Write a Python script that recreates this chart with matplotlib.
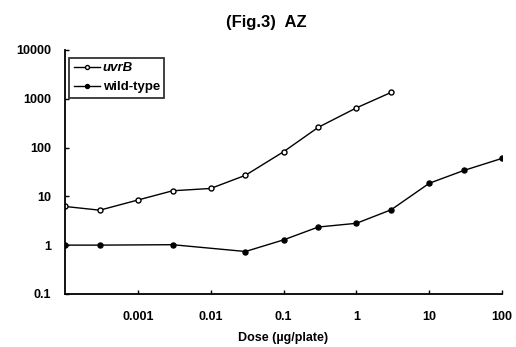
import numpy as np
import matplotlib
matplotlib.use("Agg")
import matplotlib.pyplot as plt

plt.rcParams['font.family'] = ['Liberation Sans', 'DejaVu Sans']
plt.rcParams['font.weight'] = 'bold'

# Dose (ug/plate)
dose_uvrb = [1e-4, 3e-4, 1e-3, 3e-3, 1e-2, 3e-2, 0.1, 0.3, 1, 3]
uvrb = [6.2, 5.2, 8.4, 13, 14.5, 27, 82, 260, 650, 1350]

dose_wt = [1e-4, 3e-4, 3e-3, 3e-2, 0.1, 0.3, 1, 3, 10, 30, 100]
wild_type = [1.0, 1.0, 1.02, 0.74, 1.28, 2.35, 2.8, 5.3, 18.5, 34, 60]

xticks = [0.001, 0.01, 0.1, 1, 10, 100]
xlabels = ["0.001", "0.01", "0.1", "1", "10", "100"]
yticks = [0.1, 1, 10, 100, 1000, 10000]
ylabels = ["0.1", "1", "10", "100", "1000", "10000"]

fig = plt.figure(figsize=(5.16, 3.47), dpi=100)
ax = fig.add_axes([0.126, 0.153, 0.847, 0.703])

ax.plot(dose_uvrb, uvrb, '-o', color='black', mfc='white', mec='black',
        ms=3.6, lw=1, mew=1, label='uvrB')
ax.plot(dose_wt, wild_type, '-o', color='black', ms=3.6, lw=1, label='wild-type')

ax.set_xscale('log')
ax.set_yscale('log')
ax.set_xlim(1e-4, 100)
ax.set_ylim(0.1, 10000)
ax.set_xticks(xticks)
ax.set_xticklabels(xlabels)
ax.set_yticks(yticks)
ax.set_yticklabels(ylabels)
ax.minorticks_off()
ax.tick_params(direction='in', length=3, labelsize=9, width=1)
ax.tick_params(axis='x', pad=12)
ax.tick_params(axis='y', pad=10)

for s in ['top', 'right']:
    ax.spines[s].set_visible(False)
for s in ['left', 'bottom']:
    ax.spines[s].set_linewidth(1.3)

ax.set_xlabel("Dose (\u00b5g/plate)", fontsize=9, fontweight='bold', labelpad=7)
fig.text(0.517, 0.935, "(Fig.3)  AZ", ha='center', va='center', fontsize=12)

leg = ax.legend(loc='upper left', bbox_to_anchor=(0.0, 0.985), fontsize=9.5,
                frameon=True, fancybox=False, edgecolor='black',
                handlelength=2.0, handletextpad=0.2, borderpad=0.35,
                labelspacing=0.5, borderaxespad=0.3, markerscale=0.8)
leg.get_frame().set_linewidth(1.3)
leg.get_texts()[0].set_style('italic')

fig.savefig("out.png", dpi=100)
